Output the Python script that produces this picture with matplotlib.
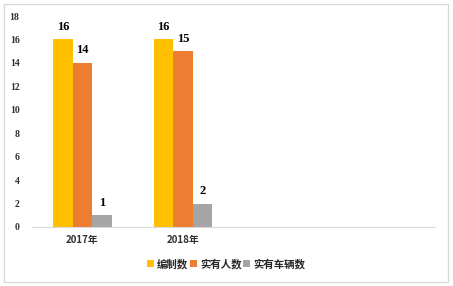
import numpy as np
import matplotlib
matplotlib.use('Agg')
from matplotlib import pyplot as plt
from matplotlib.patches import Rectangle

plt.rcParams['font.family'] = ['Noto Sans CJK SC', 'DejaVu Sans']

# data
categories = ['2017年', '2018年', '', '']
series_names = ['编制数', '实有人数', '实有车辆数']
bianzhi = [16, 16]
renshu = [14, 15]
cheliang = [1, 2]
colors = ['#FFC000', '#ED7D31', '#A5A5A5']

fig = plt.figure(figsize=(4.53, 2.86), dpi=100)
W, H = 453, 286
ax = fig.add_axes([32 / W, 1 - 227 / H, (435 - 32) / W, (227 - 16) / H])

# outer chart border
fig.patches.append(Rectangle((4 / W, 4 / H), 444 / W, 278 / H, transform=fig.transFigure,
                             fill=False, edgecolor='#D9D9D9', linewidth=1.0))

x = np.arange(len(bianzhi))
bw = 0.194
all_series = [bianzhi, renshu, cheliang]
for i, vals in enumerate(all_series):
    pos = x + (i - 1) * bw
    bars = ax.bar(pos, vals, width=bw, color=colors[i], label=series_names[i])
    for b, v in zip(bars, vals):
        ax.text(b.get_x() + b.get_width() / 2, v + 0.55, str(v), ha='center', va='bottom',
                fontsize=9, fontweight='bold', family='Liberation Serif', color='black')

ax.set_xlim(-0.5, len(categories) - 0.5)
ax.set_ylim(0, 18)
ax.set_yticks(range(0, 19, 2))
ax.set_yticklabels([str(v) for v in range(0, 19, 2)], fontsize=7, fontweight='bold',
                   family='Liberation Serif', color='#303030')
ax.set_xticks(range(len(categories)))
ax.set_xticklabels(categories, fontsize=7, color='#303030', fontweight='bold')
ax.tick_params(axis='both', length=0)
ax.tick_params(axis='y', pad=9)
ax.tick_params(axis='x', pad=6)
for s in ['top', 'right', 'left']:
    ax.spines[s].set_visible(False)
ax.spines['bottom'].set_color('#D9D9D9')

leg = fig.legend(loc='center', bbox_to_anchor=(226 / W, 1 - 264 / H), ncol=3, frameon=False,
                 fontsize=7.5, handlelength=0.65, handleheight=0.65, handletextpad=0.3,
                 columnspacing=0.2)
for t in leg.get_texts():
    t.set_color('#262626')
    t.set_fontweight('bold')

fig.savefig('out.png', dpi=100)
